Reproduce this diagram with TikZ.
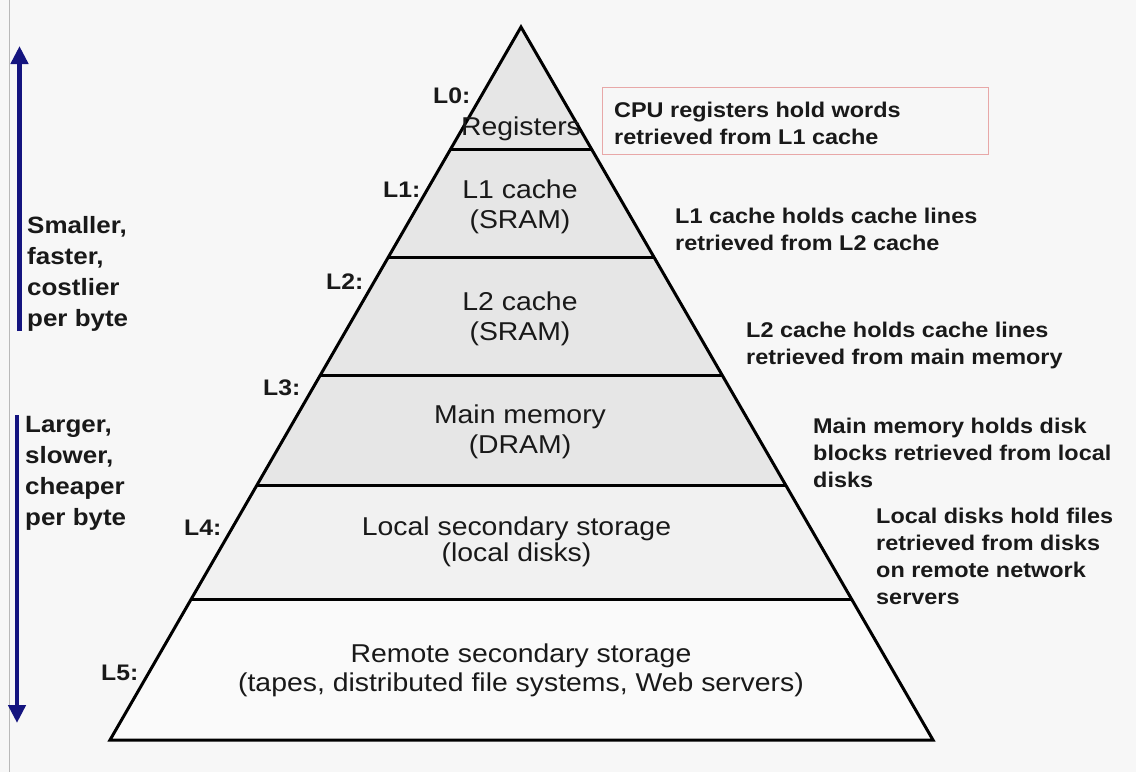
\documentclass[tikz,border=0pt]{standalone}
\usepackage{fontspec}
\setmainfont[FakeStretch=1.1]{Liberation Sans}
\usetikzlibrary{arrows.meta,calc}
\definecolor{bgc}{HTML}{F7F7F7}
\definecolor{upfill}{HTML}{E6E6E6}
\definecolor{midfill}{HTML}{F1F1F1}
\definecolor{lowfill}{HTML}{FAFAFA}
\definecolor{arrowc}{HTML}{14147F}
\definecolor{boxred}{HTML}{E8A8A8}
\tikzset{
  levelline/.style={line width=3pt, black},
  levtext/.style={font=\fontsize{25.8}{30}\selectfont, text=black!90, align=center, anchor=north, inner sep=0pt},
  lvlabel/.style={font=\fontsize{22.5}{27}\selectfont\bfseries, text=black!90, anchor=base west, inner sep=0pt},
  desc/.style={font=\fontsize{21.3}{27}\selectfont\bfseries, text=black!90, align=left, anchor=north west, inner sep=0pt},
  sidetext/.style={font=\fontsize{23.6}{31}\selectfont\bfseries, text=black!90, align=left, anchor=north west, inner sep=0pt},
  bigarrow/.style={line width=4.5pt, arrowc, -{Triangle[length=18pt,width=17pt]}},
}
\begin{document}
\begin{tikzpicture}[x=1pt,y=-1pt]
\fill[bgc] (0,0) rectangle (1136,772);
\useasboundingbox (0,0) rectangle (1136,772);
\draw[gray!55, line width=1pt] (9.5,0) -- (9.5,772);
% pyramid corners
\coordinate (A) at (521,27);
\coordinate (BL) at (110,740);
\coordinate (BR) at (933,740);
\coordinate (l1) at ($(A)!0.1725!(BL)$); \coordinate (r1) at ($(A)!0.1725!(BR)$);
\coordinate (l2) at ($(A)!0.3226!(BL)$); \coordinate (r2) at ($(A)!0.3226!(BR)$);
\coordinate (l3) at ($(A)!0.4881!(BL)$); \coordinate (r3) at ($(A)!0.4881!(BR)$);
\coordinate (l4) at ($(A)!0.6424!(BL)$); \coordinate (r4) at ($(A)!0.6424!(BR)$);
\coordinate (l5) at ($(A)!0.8036!(BL)$); \coordinate (r5) at ($(A)!0.8036!(BR)$);
% fills
\fill[upfill] (A) -- (l4) -- (r4) -- cycle;
\fill[midfill] (l4) -- (l5) -- (r5) -- (r4) -- cycle;
\fill[lowfill] (l5) -- (BL) -- (BR) -- (r5) -- cycle;
% outline and level lines
\draw[levelline, line join=miter] (A) -- (BL) -- (BR) -- cycle;
\draw[levelline] (l1) -- (r1);
\draw[levelline] (l2) -- (r2);
\draw[levelline] (l3) -- (r3);
\draw[levelline] (l4) -- (r4);
\draw[levelline] (l5) -- (r5);
% level texts
\node[levtext] (t0) at (521,116.5) {Registers};
\node[levtext] (t1) at (520,179.2) {L1 cache\\(SRAM)};
\node[levtext] (t2) at (520,291.2) {L2 cache\\(SRAM)};
\node[levtext] (t3) at (520,404.2) {Main memory\\(DRAM)};
\node[levtext, font=\fontsize{25.8}{26.5}\selectfont] (t4) at (516.5,516.2) {Local secondary storage\\(local disks)};
\node[levtext, font=\fontsize{25.8}{29}\selectfont] (t5) at (521,643.2) {Remote secondary storage\\(tapes, distributed file systems, Web servers)};
% level labels
\node[lvlabel] (L0) at (433,103) {L0:};
\node[lvlabel] (L1) at (383,197) {L1:};
\node[lvlabel] (L2) at (326,289) {L2:};
\node[lvlabel] (L3) at (263,395) {L3:};
\node[lvlabel] (L4) at (184,535) {L4:};
\node[lvlabel] (L5) at (101,680) {L5:};
% descriptions
\node[desc] (d0) at (614,101.5) {CPU registers hold words\\retrieved from L1 cache};
\draw[boxred, line width=1pt] (602,87) rectangle (988,154);
\node[desc] (d1) at (675,207.5) {L1 cache holds cache lines\\retrieved from L2 cache};
\node[desc] (d2) at (746,321.5) {L2 cache holds cache lines\\retrieved from main memory};
\node[desc] (d3) at (813,417.5) {Main memory holds disk\\blocks retrieved from local\\disks};
\node[desc] (d4) at (876,507.5) {Local disks hold files\\retrieved from disks\\on remote network\\servers};
% side arrows and texts
\coordinate (ua0) at (19.5,331);
\coordinate (ua1) at (19.5,46);
\coordinate (da0) at (17,415);
\coordinate (da1) at (17,723);
\draw[bigarrow] (ua0) -- (ua1);
\draw[bigarrow] (da0) -- (da1);
\node[sidetext] (s1) at (27,215.8) {Smaller,\\faster,\\costlier\\per byte};
\node[sidetext] (s2) at (25,415.8) {Larger,\\slower,\\cheaper\\per byte};
\end{tikzpicture}
\end{document}
